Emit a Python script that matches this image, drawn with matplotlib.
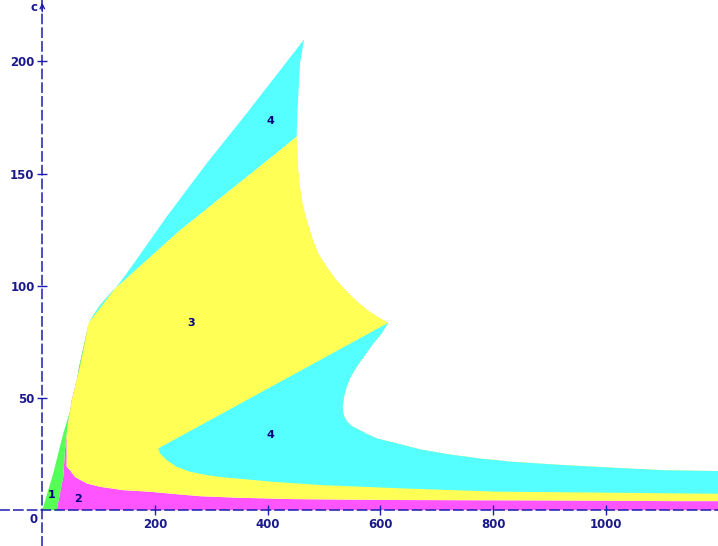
import matplotlib
matplotlib.use("Agg")
import matplotlib.pyplot as plt

# ---------------- data (boundaries) ----------------
# region 1 (green): outer edge from origin to corner, inner edge
green_outer_x = [0, 19.5, 37.3, 55.0, 72.8, 82.5]
green_outer_c = [0, 16.4, 34.2, 49.0, 68.3, 83.5]
green_inner_x = [25.6, 37.3, 40.3, 46.1, 55.0, 65.5, 82.5]
green_inner_c = [0, 14.9, 26.7, 40.1, 49.0, 63.9, 83.5]

# region 3 (yellow) left edge (bottom -> corner)
yellow_left_x = [43.3, 43.3, 52.2, 66.9, 82.5]
yellow_left_c = [19.3, 34.2, 49.0, 63.9, 83.5]
# yellow lower boundary (top of region 2), left -> right
yellow_bottom_x = [43.3, 49.2, 58, 78.8, 102.4, 143.8, 191, 238.5, 280, 350, 446, 635, 900, 1120, 1199]
yellow_bottom_c = [19.3, 17.8, 14.8, 11.9, 10.4, 8.9, 8.2, 7.1, 6.2, 5.5, 4.9, 4.5, 4.3, 4.0, 4.0]
# yellow / upper cyan boundary, corner -> right
yc_upper_x = [82.5, 90.5, 102.4, 126, 185.3, 244.4, 303.5, 362.8, 421.9, 451.5]
yc_upper_c = [83.5, 86.9, 91.4, 98.1, 111.5, 124.8, 136.7, 148.6, 160.5, 166.6]
# yellow right boundary, top -> cusp
yellow_right_x = [451.5, 453.3, 454.4, 457.4, 462.5, 469.3, 480.5, 489.9, 505.4, 522.0,
                  540.9, 558.0, 576.4, 595.0, 614.0]
yellow_right_c = [166.6, 159.0, 151.6, 144.1, 136.0, 129.3, 120.4, 114.4, 108.3, 102.6,
                  97.4, 93.2, 89.3, 86.2, 83.5]

# region 4 (cyan) upper: outer line corner -> tip, right side tip -> yellow
cyan_outer_x = [82.5, 149.8, 220.8, 291.8, 362.8, 464.5]
cyan_outer_c = [83.5, 105.5, 130.8, 154.6, 176.9, 209.8]
cyan_tip_right_x = [464.5, 457.4, 452.6, 451.5]
cyan_tip_right_c = [209.8, 199.1, 176.9, 166.6]

# region 4 (cyan) lower: nose curve cusp -> right edge
nose_x = [614.0, 602.4, 587.5, 572.8, 558.0, 547.4, 540.3, 535.5, 533.2, 534.0, 536.5,
          540.5, 545.5, 552.0, 563.9, 578.6, 593.5, 635, 670.5, 717.8, 777, 836, 924.7,
          1013.5, 1102, 1199]
nose_c = [83.5, 78.8, 74.3, 69.1, 63.9, 59.4, 55.0, 50.5, 46.1, 43.4, 41.4,
          39.7, 38.3, 37.1, 35.6, 33.7, 32.0, 29.4, 27.1, 25.0, 23.0, 21.5, 20.1,
          18.9, 17.8, 17.4]
# lower cyan bottom boundary, left point -> right edge
cyan_low_x = [205.9, 208.9, 220.8, 238.5, 262.2, 291.8, 321.3, 362.8, 410, 498.8, 599, 635,
              812, 954, 1150, 1199]
cyan_low_c = [27.5, 25.3, 22.3, 19.3, 17.1, 15.6, 14.6, 13.7, 12.6, 11.1, 10.1, 9.7,
              8.2, 7.9, 7.4, 7.3]

region_labels = ["1", "2", "3", "4", "4"]
label_x = [17, 63, 264, 405, 405]
label_c = [6.7, 4.9, 83.4, 173.4, 33.4]

x_ticks = [200, 400, 600, 800, 1000]
c_ticks = [50, 100, 150, 200]

XMAX = 1199
GREEN, MAGENTA, YELLOW, CYAN = "#55ff55", "#ff55ff", "#ffff55", "#55ffff"
AXC = "#1c1cb0"
TXT = "#1a1a8c"

# ---------------- figure ----------------
fig = plt.figure(figsize=(7.18, 5.46), dpi=100)
ax = fig.add_axes([0, 0, 1, 1])
ax.set_xlim(-75, XMAX)
ax.set_ylim(-16, 227.4)

# magenta: green inner edge up, yellow left down, yellow bottom right, axis back
mx = green_inner_x + yellow_left_x[::-1] + yellow_bottom_x + [XMAX]
mc = green_inner_c + yellow_left_c[::-1] + yellow_bottom_c + [0]
ax.fill(mx, mc, color=MAGENTA, lw=0)

# green
gx = green_outer_x + green_inner_x[::-1]
gc = green_outer_c + green_inner_c[::-1]
ax.fill(gx, gc, color=GREEN, lw=0)

# yellow (includes area later covered by lower cyan)
yx = yellow_left_x + yc_upper_x[1:] + yellow_right_x[1:] + nose_x[1:] + yellow_bottom_x[::-1]
yc = yellow_left_c + yc_upper_c[1:] + yellow_right_c[1:] + nose_c[1:] + yellow_bottom_c[::-1]
ax.fill(yx, yc, color=YELLOW, lw=0)

# upper cyan
ux = cyan_outer_x + cyan_tip_right_x[1:] + yc_upper_x[::-1][1:]
uc = cyan_outer_c + cyan_tip_right_c[1:] + yc_upper_c[::-1][1:]
ax.fill(ux, uc, color=CYAN, lw=0)

# lower cyan: left point -> cusp (straight), nose -> right edge, bottom back
lx = [cyan_low_x[0]] + nose_x + cyan_low_x[::-1]
lc = [cyan_low_c[0]] + nose_c + cyan_low_c[::-1]
ax.fill(lx, lc, color=CYAN, lw=0)

for s, xx, cc in zip(region_labels, label_x, label_c):
    ax.text(xx, cc, s, color="#000080", fontsize=8, fontweight="bold",
            ha="center", va="center")

# axes through the origin, dashed
for side in ["top", "right"]:
    ax.spines[side].set_visible(False)
for side in ["left", "bottom"]:
    sp = ax.spines[side]
    sp.set_position(("data", 0))
    sp.set_color(AXC)
    sp.set_linewidth(1.1)
    sp.set_linestyle((0, (6, 3)))
    sp.set_zorder(5)

ax.set_xticks(x_ticks)
ax.set_yticks(c_ticks)
ax.set_xticklabels([str(v) for v in x_ticks])
ax.set_yticklabels([str(v) for v in c_ticks])
ax.tick_params(axis="both", direction="inout", length=7, width=1, color=AXC,
               labelcolor=TXT, labelsize=8.5, pad=2)
for lab in ax.get_xticklabels() + ax.get_yticklabels():
    lab.set_fontweight("bold")

ax.text(-8, -1.5, "0", color=TXT, fontsize=8.5, fontweight="bold",
        ha="right", va="top")
ax.text(-9, 224, "c", color=TXT, fontsize=8.5, fontweight="bold",
        ha="right", va="center")
ax.annotate("", xy=(0, 227.4), xytext=(0, 221),
            arrowprops=dict(arrowstyle="->", color=AXC, lw=1.0,
                            mutation_scale=8))

fig.savefig("out.png", dpi=100)
